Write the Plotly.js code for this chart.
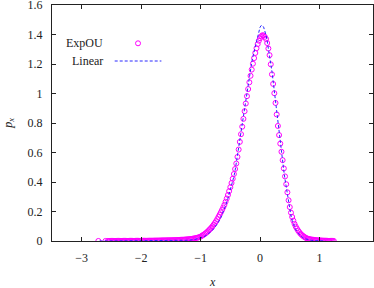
<!DOCTYPE html>
<html>
<head>
<meta charset="utf-8">
<script src="https://cdn.plot.ly/plotly-3.0.1.min.js"></script>
<style>html,body{margin:0;padding:0;background:#fff;}#chart{width:374px;height:288px;}</style>
</head>
<body>
<div id="chart"></div>
<script>
// ExpOU (magenta open circles)
const expX = [-2.72,-2.60,
-2.56,-2.54,-2.52,-2.50,-2.48,-2.46,-2.44,-2.42,-2.40,-2.38,-2.36,-2.34,-2.32,-2.30,-2.28,-2.26,-2.24,-2.22,-2.20,-2.18,-2.16,-2.14,-2.12,-2.10,-2.08,-2.06,-2.04,-2.02,
-2.00,-1.98,-1.96,-1.94,-1.92,-1.90,-1.88,-1.86,-1.84,-1.82,-1.80,-1.78,-1.76,-1.74,-1.72,-1.70,-1.68,-1.66,-1.64,-1.62,-1.60,-1.58,-1.56,-1.54,-1.52,
-1.50,-1.48,-1.46,-1.44,-1.42,-1.40,-1.38,-1.36,-1.34,-1.32,-1.30,-1.28,-1.26,-1.24,-1.22,-1.20,-1.18,-1.16,-1.14,-1.12,-1.10,-1.08,-1.06,-1.04,-1.02,
-1.00,-0.98,-0.96,-0.94,-0.92,-0.90,-0.88,-0.86,-0.84,-0.82,-0.80,-0.78,-0.76,-0.74,-0.72,-0.70,-0.68,-0.66,-0.64,-0.62,-0.60,-0.58,-0.56,-0.54,-0.52,
-0.50,-0.48,-0.46,-0.44,-0.42,-0.40,-0.38,-0.36,-0.34,-0.32,-0.30,-0.28,-0.26,-0.24,-0.22,-0.20,-0.18,-0.16,-0.14,-0.12,-0.10,-0.08,-0.06,-0.04,-0.02,
0.00,0.02,0.04,0.06,0.08,0.10,0.12,0.14,0.16,0.18,0.20,0.22,0.24,0.26,0.28,0.30,0.32,0.34,0.36,0.38,0.40,0.42,0.44,0.46,0.48,
0.50,0.52,0.54,0.56,0.58,0.60,0.62,0.64,0.66,0.68,0.70,0.72,0.74,0.76,0.78,0.80,0.82,0.84,0.86,0.88,0.90,0.92,0.94,0.96,0.98,
1.00,1.02,1.04,1.06,1.08,1.10,1.12,1.14,1.16,1.18,1.20,1.22,1.24];
const expY = [0.0004,0.0004,
0.0005,0.0005,0.0005,0.0006,0.0006,0.0006,0.0007,0.0007,0.0007,0.0008,0.0008,0.0008,0.0009,0.0009,0.0009,0.0010,0.0010,0.0010,0.0011,0.0011,0.0011,0.0012,0.0012,0.0013,0.0013,0.0014,0.0014,0.0014,
0.0015,0.0016,0.0017,0.0018,0.0019,0.0020,0.0021,0.0022,0.0023,0.0024,0.0025,0.0027,0.0028,0.0030,0.0031,0.0033,0.0035,0.0037,0.0039,0.0041,0.0043,0.0045,0.0047,0.0048,0.0049,
0.0050,0.0053,0.0056,0.0059,0.0062,0.0066,0.0070,0.0074,0.0078,0.0083,0.0088,0.0094,0.0100,0.0106,0.0113,0.0120,0.0130,0.0140,0.0152,0.0165,0.0180,0.0198,0.0218,0.0240,0.0266,
0.030,0.035,0.040,0.045,0.051,0.058,0.065,0.073,0.081,0.090,0.100,0.111,0.122,0.134,0.148,0.163,0.178,0.194,0.210,0.227,0.245,0.266,0.288,0.312,0.338,
0.365,0.393,0.422,0.454,0.488,0.525,0.570,0.620,0.672,0.724,0.775,0.828,0.880,0.932,0.982,1.030,1.076,1.120,1.162,1.202,1.240,1.275,1.307,1.335,1.358,
1.375,1.388,1.395,1.393,1.384,1.370,1.342,1.305,1.260,1.198,1.130,1.065,1.002,0.936,0.858,0.780,0.718,0.660,0.605,0.548,0.492,0.438,0.385,0.330,0.276,
0.230,0.192,0.163,0.138,0.116,0.098,0.084,0.071,0.060,0.050,0.042,0.035,0.029,0.024,0.019,0.016,0.014,0.012,0.010,0.009,0.008,0.007,0.006,0.005,0.0045,
0.0040,0.0035,0.0030,0.0027,0.0024,0.0020,0.0017,0.0014,0.0012,0.0010,0.0008,0.0006,0.0005];

// Linear (blue dashed line)
const linX = [-2.7,-2.0,-1.7,-1.4,-1.2,-1.1,-1.0,-0.95,-0.9,-0.86,-0.82,-0.78,-0.74,-0.7,-0.66,-0.62,-0.58,-0.54,-0.5,-0.48,-0.46,-0.44,-0.42,-0.4,-0.38,-0.36,-0.34,-0.32,-0.3,-0.28,-0.26,-0.24,-0.22,-0.2,-0.18,-0.16,-0.14,-0.12,-0.1,-0.08,-0.06,-0.04,-0.02,0,0.02,0.04,0.06,0.08,0.1,0.12,0.14,0.16,0.18,0.2,0.22,0.24,0.26,0.28,0.3,0.32,0.34,0.36,0.38,0.4,0.42,0.44,0.46,0.48,0.5,0.52,0.54,0.56,0.58,0.6,0.64,0.68,0.72,0.76,0.8,0.86,0.92,1.0,1.1];
const linY = [0,0.0002,0.0005,0.0015,0.005,0.010,0.020,0.028,0.039,0.050,0.065,0.082,0.103,0.128,0.158,0.195,0.24,0.29,0.345,0.372,0.402,0.437,0.477,0.522,0.575,0.630,0.685,0.74,0.795,0.85,0.905,0.96,1.01,1.06,1.11,1.16,1.21,1.25,1.285,1.32,1.354,1.396,1.428,1.45,1.461,1.461,1.45,1.428,1.396,1.356,1.31,1.26,1.207,1.15,1.085,1.015,0.94,0.865,0.79,0.72,0.655,0.595,0.535,0.475,0.418,0.362,0.308,0.258,0.212,0.172,0.14,0.114,0.094,0.077,0.052,0.035,0.023,0.015,0.01,0.005,0.0025,0.001,0.0003];

const seriesNames = ['ExpOU','Linear'];
const xTitle = '<i>x</i>';
const yTitle = '<i>p</i><sub><i>x</i></sub>';

const MAG = '#ff00ff';
const BLUE = '#2828ff';
const FONT = '"Liberation Serif", serif';
const TXT = '#222';

const traces = [
  {x: expX, y: expY, type: 'scatter', mode: 'markers', name: seriesNames[0],
   marker: {symbol: 'circle-open', size: 5, color: MAG, line: {color: MAG, width: 1}}},
  {x: linX, y: linY, type: 'scatter', mode: 'lines', name: seriesNames[1],
   line: {color: BLUE, width: 1, dash: '3px,2px'}}
];

const axCommon = {
  showline: true, linecolor: '#222', linewidth: 1, mirror: 'ticks',
  ticks: 'inside', ticklen: 4, tickcolor: '#222', tickwidth: 1,
  showgrid: false, zeroline: false, ticklabeloverflow: 'allow',
  tickfont: {family: FONT, size: 12, color: TXT}
};

const layout = {
  width: 374, height: 288,
  margin: {l: 52, r: 1, t: 5, b: 47},
  paper_bgcolor: '#fff', plot_bgcolor: '#fff',
  showlegend: false,
  font: {family: FONT, size: 12, color: TXT},
  xaxis: Object.assign({}, axCommon, {range: [-3.5, 1.9], tickvals: [-3,-2,-1,0,1], ticklabelstandoff: 6}),
  yaxis: Object.assign({}, axCommon, {range: [0, 1.6], dtick: 0.2, tick0: 0, ticklabelstandoff: 6}),
  annotations: [
    {xref: 'paper', yref: 'paper', x: 0.1642, y: 0.8377, xanchor: 'right', yanchor: 'middle',
     text: seriesNames[0], showarrow: false, font: {family: FONT, size: 12, color: TXT}},
    {xref: 'paper', yref: 'paper', x: 0.1642, y: 0.7627, xanchor: 'right', yanchor: 'middle',
     text: seriesNames[1], showarrow: false, font: {family: FONT, size: 12, color: TXT}},
    {xref: 'paper', yref: 'paper', x: 0.4997, y: -0.172, xanchor: 'center', yanchor: 'middle',
     text: xTitle, showarrow: false, font: {family: FONT, size: 12, color: TXT}},
    {xref: 'paper', yref: 'paper', x: -0.135, y: 0.5, xanchor: 'center', yanchor: 'middle',
     text: yTitle, textangle: -90, showarrow: false, font: {family: FONT, size: 12, color: TXT}}
  ],
  shapes: [
    {type: 'circle', xref: 'paper', yref: 'paper', xsizemode: 'pixel', ysizemode: 'pixel',
     xanchor: 0.268, yanchor: 0.8377, x0: -2.5, x1: 2.5, y0: -2.5, y1: 2.5,
     line: {color: MAG, width: 1}},
    {type: 'line', xref: 'paper', yref: 'paper', x0: 0.1953, x1: 0.3408, y0: 0.7627, y1: 0.7627,
     line: {color: BLUE, width: 1, dash: '3px,2px'}}
  ]
};

Plotly.newPlot('chart', traces, layout, {staticPlot: true, displayModeBar: false});
</script>
</body>
</html>
